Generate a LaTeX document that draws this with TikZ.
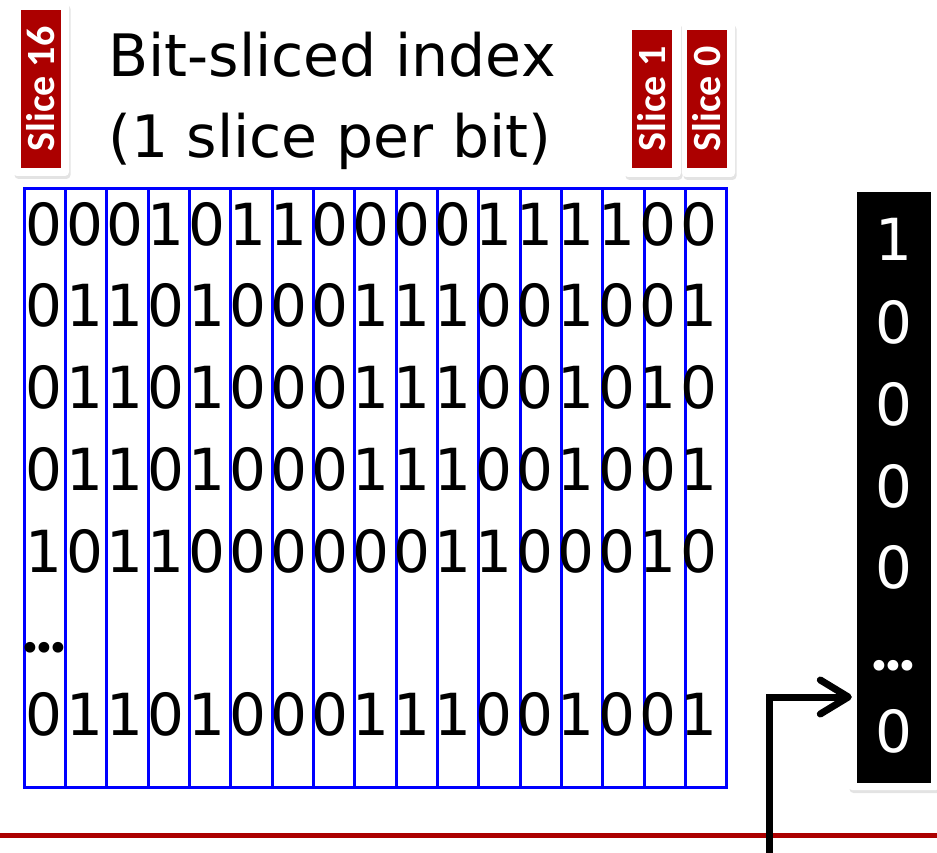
\documentclass[tikz,border=0pt]{standalone}
\usepackage{fontspec}
\setmainfont{DejaVu Sans}
\newfontfamily\slicefont{Carlito}
\usetikzlibrary{arrows.meta,shadows}
\definecolor{slicered}{RGB}{172,0,0}
\definecolor{gridblue}{RGB}{0,0,255}
\tikzset{
  card/.style={fill=white, draw=none, rounded corners=4pt, inner sep=0pt,
    drop shadow={shadow xshift=1.5pt, shadow yshift=-3pt, opacity=0.22}},
  slicetag/.style={fill=slicered, inner sep=0pt, rotate=90, text=white,
    font=\slicefont\bfseries\fontsize{40}{40}\selectfont, minimum height=40pt},
  gridcol/.style={draw=gridblue, line width=3pt, minimum width=41.35pt,
    minimum height=598pt, inner sep=0pt},
  digit/.style={inner sep=0pt, font=\fontsize{58}{58}\selectfont, anchor=base},
  dots/.style={inner sep=0pt, font=\fontsize{37}{37}\selectfont, anchor=base},
  titletext/.style={inner sep=0pt, font=\fontsize{58.5}{58.5}\selectfont, anchor=base west},
  arrowline/.style={line width=7pt, -{Straight Barb[length=28pt,width=34pt,round]}},
  redrule/.style={draw=slicered, line width=5pt}
}
\newcommand{\tightdots}{•\kern-8pt•\kern-8pt•}
\begin{document}
\begin{tikzpicture}[x=1pt,y=-1pt]
\useasboundingbox (0,0) rectangle (937,853);
% red rule
\draw[redrule] (0,835) -- (937,835);
% title
\node[titletext] (title1) at (108,77) {Bit-sliced index};
\node[titletext] (title2) at (108,158) {(1 slice per bit)};
% slice tags
\node[card, minimum width=56pt, minimum height=174pt] (card16) at (41,89) {};
\node[slicetag, minimum width=158pt] (tag16) at (41,89) {Slice 16};
\node[card, minimum width=57pt, minimum height=155pt] (card1) at (652.5,99.5) {};
\node[card, minimum width=53pt, minimum height=155pt] (card0) at (708.5,99.5) {};
\node[slicetag, minimum width=138pt] (tag1) at (652,99) {Slice 1};
\node[slicetag, minimum width=138pt] (tag0) at (707,99) {Slice 0};
% grid columns
\foreach \i in {0,...,16}
  \node[gridcol] (col\i) at ({44.675+41.35*\i},488) {};
% digits
\foreach \bits/\yy [count=\r] in {
  {0,0,0,1,0,1,1,0,0,0,0,1,1,1,1,0,0}/245,
  {0,1,1,0,1,0,0,0,1,1,1,0,0,1,0,0,1}/326.5,
  {0,1,1,0,1,0,0,0,1,1,1,0,0,1,0,1,0}/408,
  {0,1,1,0,1,0,0,0,1,1,1,0,0,1,0,0,1}/490,
  {1,0,1,1,0,0,0,0,0,0,1,1,0,0,0,1,0}/572,
  {0,1,1,0,1,0,0,0,1,1,1,0,0,1,0,0,1}/735}
  \foreach \d [count=\c from 0] in \bits
    \node[digit] (d\r-\c) at ({43.5+40.97*\c},\yy) {\d};
\node[dots] (griddots) at (44.5,661) {\tightdots};
% result vector
\node[card, minimum width=92pt, minimum height=607pt] (resbox) at (894,486.5) {};
\node[fill=black, inner sep=0pt, minimum width=74pt, minimum height=591pt] (resblack) at (894,487.5) {};
\foreach \v/\yy [count=\k] in {1/261,0/343,0/425,0/507,0/588,0/752}
  \node[digit, text=white] (r\k) at (894,\yy) {\v};
\node[dots, text=white] (resdots) at (893.5,679) {\tightdots};
% arrow
\coordinate (src) at (769,860);
\draw[arrowline] (src) |- ([xshift=4pt,yshift=-210.5pt]resbox.west);
\end{tikzpicture}
\end{document}
